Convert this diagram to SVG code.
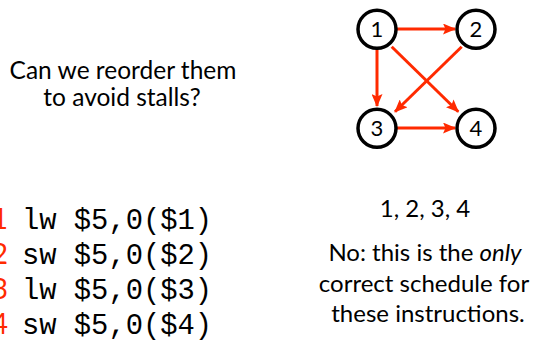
<svg xmlns="http://www.w3.org/2000/svg" width="536" height="344" viewBox="0 0 536 344">
<defs>
<marker id="ah" viewBox="0 0 13 11" refX="12" refY="5.5" markerWidth="13" markerHeight="11" markerUnits="userSpaceOnUse" orient="auto">
<path d="M0,0 L13,5.5 L0,11 L2.5,5.5 Z" fill="#ff2a00"/>
</marker>
</defs>
<style>
.t{font-family:"Lato","Open Sans",sans-serif;font-size:24.5px;fill:#000;text-anchor:middle}
.a{font-family:"Lato","Open Sans",sans-serif;font-size:24px;fill:#000;text-anchor:middle}
.n circle{fill:#fff;stroke:#000;stroke-width:3.5}
.n text{font-family:"Lato","Open Sans",sans-serif;font-size:22px;fill:#000;text-anchor:middle}
.e line{stroke:#ff2a00;stroke-width:3;marker-end:url(#ah)}
.code{font-family:"Liberation Mono",monospace;font-size:28.8px;fill:#000}
.r{font-family:"Lato","Open Sans",sans-serif;font-size:28px;fill:#ff2a00;text-anchor:end}
</style>
<rect width="536" height="344" fill="#fff"/>
<g id="question">
<text class="t" x="123" y="79">Can we reorder them</text>
<text class="t" x="122" y="106">to avoid stalls?</text>
</g>
<g id="edges" class="e">
<line x1="397" y1="29" x2="455" y2="29"/>
<line x1="377" y1="49" x2="377" y2="106"/>
<line x1="391.7" y1="46.7" x2="458.3" y2="111.7"/>
<line x1="461.7" y1="46.7" x2="395" y2="111.7"/>
<line x1="397" y1="128" x2="455" y2="128"/>
</g>
<g id="node1" class="n"><circle cx="377" cy="29.3" r="19"/><text x="377" y="37">1</text></g>
<g id="node2" class="n"><circle cx="476" cy="29.3" r="19"/><text x="476" y="37">2</text></g>
<g id="node3" class="n"><circle cx="377" cy="128.3" r="19"/><text x="377" y="136">3</text></g>
<g id="node4" class="n"><circle cx="476" cy="128.3" r="19"/><text x="476" y="136">4</text></g>
<g id="code">
<text class="r" x="8" y="229">1</text>
<text class="r" x="8" y="264">2</text>
<text class="r" x="8" y="299">3</text>
<text class="r" x="8" y="334">4</text>
<text class="code" x="22" y="229">lw $5,0($1)</text>
<text class="code" x="22" y="264">sw $5,0($2)</text>
<text class="code" x="22" y="299">lw $5,0($3)</text>
<text class="code" x="22" y="334">sw $5,0($4)</text>
</g>
<g id="answer">
<text class="a" x="425" y="217">1, 2, 3, 4</text>
<text class="a" x="425" y="261">No: this is the <tspan font-style="italic">only</tspan></text>
<text class="a" x="424" y="292">correct schedule for</text>
<text class="a" x="428" y="322">these instructions.</text>
</g>
</svg>
